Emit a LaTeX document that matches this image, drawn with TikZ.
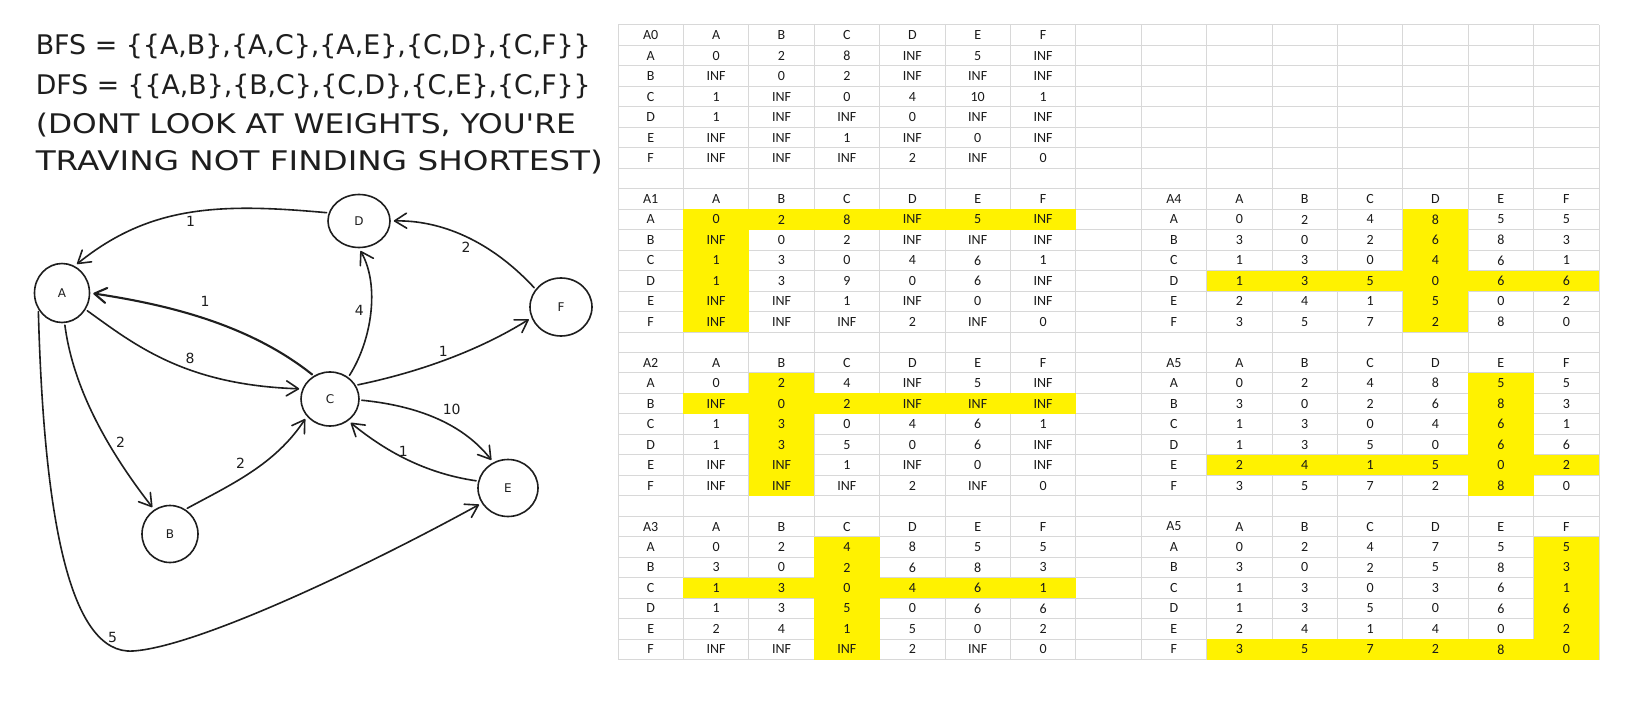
\documentclass[tikz,border=0pt]{standalone}
\usepackage{fontspec}
\usepackage{graphicx}
\usepackage{xcolor}
\setmainfont{Carlito}
\newfontfamily\handfont{DejaVu Sans}
\usetikzlibrary{arrows.meta, shapes.geometric, positioning, calc}

\definecolor{ink}{HTML}{1E1E1E}
\definecolor{celltext}{HTML}{1A1A1A}
\definecolor{gridgray}{HTML}{D8D8D8}

\def\sheetx{618}
\def\sheety{25}
\def\colw{65.4}
\def\rowh{20.47}

\newcommand{\rowname}[1]{\ifcase#1\or A\or B\or C\or D\or E\or F\fi}
\newcommand{\handline}[3]{\node[anchor=base west, inner sep=0pt, text=ink] at #1 {\resizebox{#2}{\height}{\handfont\fontsize{27}{27}\selectfont #3}};}

% #1 first column, #2 first row, #3 name, #4 pivot (0 = none), #5 the six rows
\newcommand{\disttable}[5]{%
  \ifnum#4>0
    \fill[pivotfill] ({\sheetx+\colw*(#1+1)},{\sheety+\rowh*(#2+#4)}) rectangle ++({6*\colw},\rowh);
    \fill[pivotfill] ({\sheetx+\colw*(#1+#4)},{\sheety+\rowh*(#2+1)}) rectangle ++(\colw,{6*\rowh});
  \fi
  \node[sheetcell] at ({\sheetx+\colw*(#1+0.5)},{\sheety+\rowh*(#2+0.5)}) {#3};
  \foreach \h [count=\i] in {A,B,C,D,E,F}
    \node[sheetcell] at ({\sheetx+\colw*(#1+\i+0.5)},{\sheety+\rowh*(#2+0.5)}) {\h};
  \foreach \vals [count=\j] in {#5} {
    \node[sheetcell] at ({\sheetx+\colw*(#1+0.5)},{\sheety+\rowh*(#2+\j+0.5)}) {\rowname{\j}};
    \foreach \v [count=\i] in \vals
      \node[sheetcell] at ({\sheetx+\colw*(#1+\i+0.5)},{\sheety+\rowh*(#2+\j+0.5)}) {\v};
  }
}

\begin{document}
\begin{tikzpicture}[
    x=1pt, y=-1pt,
    vertex/.style={ellipse, draw=ink, line width=1.6pt, inner sep=0pt, text=ink, font=\handfont\fontsize{12}{12}\selectfont},
    link/.style={draw=ink, line width=1.6pt, line cap=round, shorten >=3pt, shorten <=2pt, -{Straight Barb[length=12pt, width=15pt, round]}},
    wlabel/.style={inner sep=0pt, text=ink, font=\handfont\fontsize{14}{14}\selectfont},
    sheetcell/.style={inner sep=0pt, text=celltext, font=\fontsize{14}{14}\selectfont},
    gridline/.style={draw=gridgray, line width=1pt},
    pivotfill/.style={fill=yellow}
]
\useasboundingbox (0,0) rectangle (1642,701);
\fill[white] (0,0) rectangle (1642,701);

\handline{(35.6,55)}{555pt}{BFS = \{\{A,B\},\{A,C\},\{A,E\},\{C,D\},\{C,F\}\}}
\handline{(35.6,95)}{555pt}{DFS = \{\{A,B\},\{B,C\},\{C,D\},\{C,E\},\{C,F\}\}}
\handline{(35.6,133)}{540pt}{(DONT LOOK AT WEIGHTS, YOU'RE}
\handline{(35.6,170)}{567pt}{TRAVING NOT FINDING SHORTEST)}

\node[vertex, minimum width=55pt, minimum height=59pt] (A) at (62,293) {A};
\node[vertex, minimum width=56pt, minimum height=57pt] (B) at (170,534) {B};
\node[vertex, minimum width=58pt, minimum height=54pt] (C) at (330,399) {C};
\node[vertex, minimum width=62pt, minimum height=53pt] (D) at (359,221) {D};
\node[vertex, minimum width=60pt, minimum height=57pt] (E) at (508,488) {E};
\node[vertex, minimum width=62pt, minimum height=58pt] (F) at (561,307) {F};
\coordinate (low) at (133,651);

\draw[link] (D.165) .. controls (220,203) and (150,205) .. (A.65);
\draw[link] (F.145) .. controls (490,240) and (440,220) .. (D.0);
\draw[link, line width=2.1pt] (C.125) .. controls (250,325) and (170,305) .. (A.0);
\draw[link] (A.-35) .. controls (135,345) and (185,385) .. (C.160);
\draw[link] (C.50) .. controls (372,340) and (380,285) .. (D.-90);
\draw[link] (C.28) .. controls (420,372) and (480,350) .. (F.200);
\draw[link] (C.-2) .. controls (410,405) and (460,420) .. (E.120);
\draw[link] (E.167) .. controls (430,474) and (390,455) .. (C.-50);
\draw[link] (A.-85) .. controls (72,380) and (100,440) .. (B.123);
\draw[link] (B.58) .. controls (230,485) and (275,465) .. (C.217);
\draw[link] (A.215) .. controls (44,520) and (70,655) .. (low) .. controls (196,647) and (360,570) .. (E.210);

\node[wlabel] (wDA) at (190.7,221) {1};
\node[wlabel] (wFD) at (466,247.3) {2};
\node[wlabel] (wCA) at (205,301) {1};
\node[wlabel] (wAC) at (190,358.3) {8};
\node[wlabel] (wCD) at (359.3,310) {4};
\node[wlabel] (wCF) at (443.3,351.7) {1};
\node[wlabel] (wCE) at (451.7,409) {10};
\node[wlabel] (wEC) at (403.3,451.7) {1};
\node[wlabel] (wAB) at (120.7,442.7) {2};
\node[wlabel] (wBC) at (240.7,463.3) {2};
\node[wlabel] (wAE) at (112.7,637.3) {5};

\foreach \c in {0,...,15}
  \draw[gridline] ({\sheetx+\colw*\c},\sheety) -- ({\sheetx+\colw*\c},{\sheety+31*\rowh});
\foreach \r in {0,...,31}
  \draw[gridline] (\sheetx,{\sheety+\rowh*\r}) -- ({\sheetx+15*\colw},{\sheety+\rowh*\r});

\disttable{0}{0}{A0}{0}{{0,2,8,INF,5,INF},{INF,0,2,INF,INF,INF},{1,INF,0,4,10,1},{1,INF,INF,0,INF,INF},{INF,INF,1,INF,0,INF},{INF,INF,INF,2,INF,0}}
\disttable{0}{8}{A1}{1}{{0,2,8,INF,5,INF},{INF,0,2,INF,INF,INF},{1,3,0,4,6,1},{1,3,9,0,6,INF},{INF,INF,1,INF,0,INF},{INF,INF,INF,2,INF,0}}
\disttable{0}{16}{A2}{2}{{0,2,4,INF,5,INF},{INF,0,2,INF,INF,INF},{1,3,0,4,6,1},{1,3,5,0,6,INF},{INF,INF,1,INF,0,INF},{INF,INF,INF,2,INF,0}}
\disttable{0}{24}{A3}{3}{{0,2,4,8,5,5},{3,0,2,6,8,3},{1,3,0,4,6,1},{1,3,5,0,6,6},{2,4,1,5,0,2},{INF,INF,INF,2,INF,0}}
\disttable{8}{8}{A4}{4}{{0,2,4,8,5,5},{3,0,2,6,8,3},{1,3,0,4,6,1},{1,3,5,0,6,6},{2,4,1,5,0,2},{3,5,7,2,8,0}}
\disttable{8}{16}{A5}{5}{{0,2,4,8,5,5},{3,0,2,6,8,3},{1,3,0,4,6,1},{1,3,5,0,6,6},{2,4,1,5,0,2},{3,5,7,2,8,0}}
\disttable{8}{24}{A5}{6}{{0,2,4,7,5,5},{3,0,2,5,8,3},{1,3,0,3,6,1},{1,3,5,0,6,6},{2,4,1,4,0,2},{3,5,7,2,8,0}}
\end{tikzpicture}
\end{document}
